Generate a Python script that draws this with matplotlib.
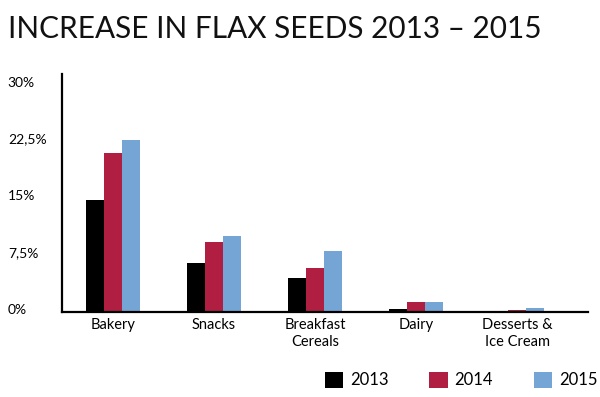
import matplotlib
matplotlib.use("Agg")
import matplotlib.pyplot as plt
import numpy as np
from matplotlib.patches import Patch
from matplotlib.transforms import ScaledTranslation

categories = ["Bakery", "Snacks", "Breakfast\nCereals", "Dairy", "Desserts &\nIce Cream"]
years = ["2013", "2014", "2015"]
values_2013 = [14.8, 6.4, 4.5, 0.4, 0.0]
values_2014 = [21.0, 9.2, 5.8, 1.3, 0.25]
values_2015 = [22.7, 10.0, 8.0, 1.3, 0.5]
tick_values = [0, 7.5, 15, 22.5, 30]
tick_labels = ["0%", "7,5%", "15%", "22,5%", "30%"]

colors = ["#000000", "#B01E42", "#74A5D5"]
font = "Lato"

fig = plt.figure(figsize=(6, 3.97), dpi=100)
ax = fig.add_axes([0.1033, 0.2141, 0.877, 0.5995])

x = np.arange(len(categories))
w = 0.178
series = [values_2013, values_2014, values_2015]
for i, (vals, col) in enumerate(zip(series, colors)):
    ax.bar(x + (i - 1) * w, vals, w, color=col, label=years[i])

ax.set_xlim(-0.5, 4.7)
ax.set_ylim(0, 31.4)
ax.set_xticks(x)
ax.set_xticklabels(categories, fontsize=10.5, family=font, linespacing=1.35)
ax.set_yticks(tick_values)
ax.set_yticklabels(tick_labels, fontsize=10, family=font, ha="left")
ax.tick_params(axis="y", length=0, pad=39)
ax.tick_params(axis="x", length=0, pad=4)
for lbl in ax.get_yticklabels():
    lbl.set_transform(lbl.get_transform() + ScaledTranslation(0, 3 / 100, fig.dpi_scale_trans))

for s in ["top", "right"]:
    ax.spines[s].set_visible(False)
for s in ["left", "bottom"]:
    ax.spines[s].set_linewidth(1.6)

fig.text(0.013, 0.905, "INCREASE IN FLAX SEEDS 2013 – 2015", fontsize=21.4,
         family=font, color="#111111", va="baseline")

handles = [Patch(facecolor=c) for c in colors]
fig.legend(handles, years, loc="center left", bbox_to_anchor=(0.528, 0.043),
           ncol=3, frameon=False, handlelength=1.1, handleheight=1.1, borderpad=0,
           handletextpad=0.4, columnspacing=2.45, prop={"family": font, "size": 12})

fig.savefig("out.png", dpi=100)
